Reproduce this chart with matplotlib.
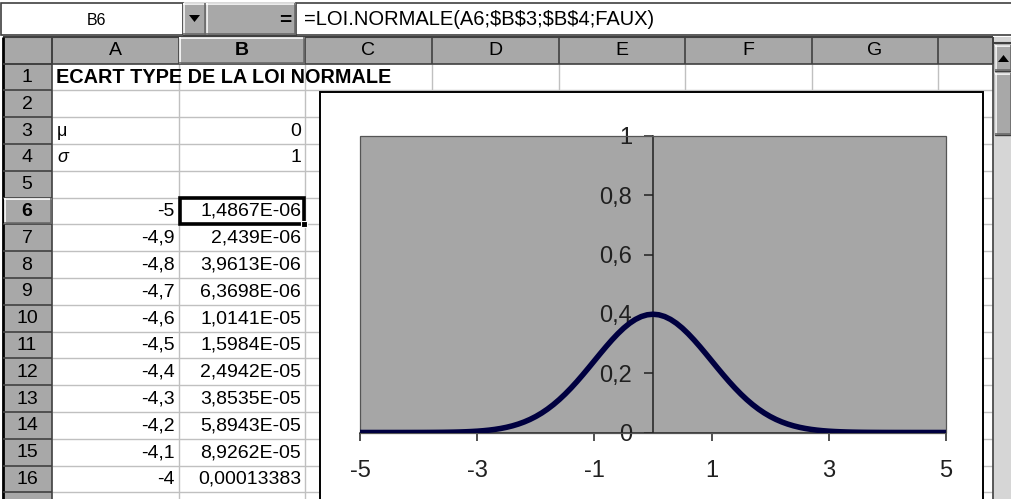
import matplotlib
matplotlib.use("Agg")
import matplotlib.pyplot as plt
from matplotlib.patches import Rectangle, Polygon

plt.rcParams['font.family'] = ['Liberation Sans', 'DejaVu Sans']

# ---------------- data ----------------
x_values = [-5.0, -4.9, -4.8, -4.7, -4.6, -4.5, -4.4, -4.3, -4.2, -4.1,
            -4.0, -3.9, -3.8, -3.7, -3.6, -3.5, -3.4, -3.3, -3.2, -3.1,
            -3.0, -2.9, -2.8, -2.7, -2.6, -2.5, -2.4, -2.3, -2.2, -2.1,
            -2.0, -1.9, -1.8, -1.7, -1.6, -1.5, -1.4, -1.3, -1.2, -1.1,
            -1.0, -0.9, -0.8, -0.7, -0.6, -0.5, -0.4, -0.3, -0.2, -0.1,
            0.0, 0.1, 0.2, 0.3, 0.4, 0.5, 0.6, 0.7, 0.8, 0.9,
            1.0, 1.1, 1.2, 1.3, 1.4, 1.5, 1.6, 1.7, 1.8, 1.9,
            2.0, 2.1, 2.2, 2.3, 2.4, 2.5, 2.6, 2.7, 2.8, 2.9,
            3.0, 3.1, 3.2, 3.3, 3.4, 3.5, 3.6, 3.7, 3.8, 3.9,
            4.0, 4.1, 4.2, 4.3, 4.4, 4.5, 4.6, 4.7, 4.8, 4.9, 5.0]
y_values = [0.00000, 0.00000, 0.00000, 0.00001, 0.00001, 0.00002, 0.00002, 0.00004, 0.00006, 0.00009,
            0.00013, 0.00020, 0.00029, 0.00042, 0.00061, 0.00087, 0.00123, 0.00172, 0.00238, 0.00327,
            0.00443, 0.00595, 0.00792, 0.01042, 0.01358, 0.01753, 0.02239, 0.02833, 0.03547, 0.04398,
            0.05399, 0.06562, 0.07895, 0.09405, 0.11092, 0.12952, 0.14973, 0.17137, 0.19419, 0.21785,
            0.24197, 0.26609, 0.28969, 0.31225, 0.33322, 0.35207, 0.36827, 0.38139, 0.39104, 0.39695,
            0.39894, 0.39695, 0.39104, 0.38139, 0.36827, 0.35207, 0.33322, 0.31225, 0.28969, 0.26609,
            0.24197, 0.21785, 0.19419, 0.17137, 0.14973, 0.12952, 0.11092, 0.09405, 0.07895, 0.06562,
            0.05399, 0.04398, 0.03547, 0.02833, 0.02239, 0.01753, 0.01358, 0.01042, 0.00792, 0.00595,
            0.00443, 0.00327, 0.00238, 0.00172, 0.00123, 0.00087, 0.00061, 0.00042, 0.00029, 0.00020,
            0.00013, 0.00009, 0.00006, 0.00004, 0.00002, 0.00002, 0.00001, 0.00001, 0.00000, 0.00000, 0.00000]

x_ticks = [-5, -3, -1, 1, 3, 5]
x_tick_labels = ['-5', '-3', '-1', '1', '3', '5']
y_ticks = [0, 0.2, 0.4, 0.6, 0.8, 1]
y_tick_labels = ['0', '0,2', '0,4', '0,6', '0,8', '1']

name_box = 'B6'
formula = '=LOI.NORMALE(A6;$B$3;$B$4;FAUX)'
column_letters = ['A', 'B', 'C', 'D', 'E', 'F', 'G', '']
row_numbers = [str(i) for i in range(1, 17)]
title_text = 'ECART TYPE DE LA LOI NORMALE'
param_labels = ['μ', 'σ']
param_values = ['0', '1']
table_a = ['-5', '-4,9', '-4,8', '-4,7', '-4,6', '-4,5', '-4,4', '-4,3', '-4,2', '-4,1', '-4']
table_b = ['1,4867E-06', '2,439E-06', '3,9613E-06', '6,3698E-06', '1,0141E-05', '1,5984E-05',
           '2,4942E-05', '3,8535E-05', '5,8943E-05', '8,9262E-05', '0,00013383']

# ---------------- figure ----------------
W, H = 1011, 499
fig = plt.figure(figsize=(W / 100, H / 100), dpi=100)
fig.patch.set_facecolor('white')
bg = fig.add_axes([0, 0, 1, 1])
bg.set_xlim(0, W)
bg.set_ylim(H, 0)
bg.axis('off')

GRAY = '#a8a8a8'
DARK = '#404040'
GRID = '#c0c0c0'


def rect(x0, y0, x1, y1, fc='none', ec='none', lw=1.0, z=1):
    bg.add_patch(Rectangle((x0, y0), x1 - x0, y1 - y0, facecolor=fc,
                           edgecolor=ec, linewidth=lw, zorder=z))


def line(xs, ys, c=DARK, lw=1.0, z=2):
    bg.plot(xs, ys, color=c, linewidth=lw, zorder=z, solid_capstyle='butt')


def bevel(x0, y0, x1, y1, z=2):
    line([x0, x1], [y0 + 1, y0 + 1], c='white', lw=1.2, z=z)
    line([x0 + 1, x0 + 1], [y0, y1], c='white', lw=1.2, z=z)
    line([x0, x1], [y1 - 1, y1 - 1], c='#6a6a6a', lw=1.2, z=z)
    line([x1 - 1, x1 - 1], [y0, y1], c='#6a6a6a', lw=1.2, z=z)


# formula bar
rect(1, 3, 183, 35, fc='white', ec=DARK, lw=1.2, z=2)
rect(183, 3, 206, 35, fc=GRAY, ec=DARK, lw=1.0, z=2)
bevel(183, 3, 206, 35, z=3)
bg.add_patch(Polygon([[189, 15], [200, 15], [194.5, 22]], closed=True,
                     facecolor='black', edgecolor='none', zorder=4))
rect(206, 3, 296, 35, fc=GRAY, ec=DARK, lw=1.0, z=2)
bevel(206, 3, 296, 35, z=3)
bg.text(285, 20, '=', ha='center', va='center', fontsize=15, fontweight='bold', zorder=4)
rect(296, 3, 1012, 35, fc='white', ec=DARK, lw=1.2, z=2)
bg.text(97, 20, name_box, ha='center', va='center', fontsize=11.5, zorder=4)
bg.text(304, 19, formula, ha='left', va='center', fontsize=14.5, zorder=4,
        parse_math=False)

# grid geometry
col_edges = [52, 178.5, 305, 432, 558.5, 685, 812, 938, 993]
head_top, head_bot = 37, 63.5
row_h = 26.8
row_tops = [head_bot + i * row_h for i in range(len(row_numbers) + 1)]

# cell grid lines
for xe in col_edges[1:]:
    line([xe, xe], [head_bot, H], c=GRID, lw=1.0, z=1)
for yt in row_tops[1:]:
    line([52, 993], [yt, yt], c=GRID, lw=1.0, z=1)

# column header
rect(3, head_top, 993, head_bot, fc=GRAY, ec='none', z=2)
line([3, 993], [head_top, head_top], c=DARK, lw=1.5, z=3)
line([3, 993], [head_bot, head_bot], c=DARK, lw=1.2, z=3)
for i, xe in enumerate(col_edges):
    line([xe, xe], [head_top, head_bot], c=DARK, lw=1.2, z=3)
for i, lab in enumerate(column_letters):
    cx = (col_edges[i] + col_edges[i + 1]) / 2
    bg.text(cx, 50.5, lab, ha='center', va='center', fontsize=14,
            fontweight='bold' if lab == 'B' else 'normal', color='#000000', zorder=4)
bevel(179, head_top, 305, head_bot, z=3)

# row header
rect(3, head_bot, 52, H, fc=GRAY, ec='none', z=2)
line([3, 3], [head_top, H], c='#000000', lw=2.0, z=3)
line([52, 52], [head_top, H], c=DARK, lw=1.2, z=3)
for yt in row_tops:
    line([3, 52], [yt, yt], c=DARK, lw=1.2, z=3)
for i, lab in enumerate(row_numbers):
    yt = row_tops[i]
    bg.text(27, yt + row_h / 2 + 0.5, lab, ha='center', va='center', fontsize=14,
            fontweight='bold' if lab == '6' else 'normal', zorder=4)
bevel(4, row_tops[5], 52, row_tops[6], z=3)

# cell contents
def row_mid(r):
    return row_tops[r - 1] + row_h / 2 + 0.5

bg.text(56, row_mid(1), title_text, ha='left', va='center', fontsize=14.3,
        fontweight='bold', zorder=4)
for k, (lab, val) in enumerate(zip(param_labels, param_values)):
    bg.text(57, row_mid(3 + k), lab, ha='left', va='center', fontsize=13,
            style='italic' if lab == 'σ' else 'normal', zorder=4)
    bg.text(301, row_mid(3 + k), val, ha='right', va='center', fontsize=14, zorder=4)
for k, (a, b) in enumerate(zip(table_a, table_b)):
    bg.text(174.5, row_mid(6 + k), a, ha='right', va='center', fontsize=14, zorder=4)
    bg.text(301, row_mid(6 + k), b, ha='right', va='center', fontsize=14, zorder=4)

# active cell B6
rect(179.5, row_tops[5] + 0.5, 304, row_tops[6] - 0.5, fc='none', ec='black', lw=2.6, z=5)
rect(300.5, row_tops[6] - 3.5, 307, row_tops[6] + 3, fc='black', ec='white', lw=0.8, z=6)

# scrollbar
rect(993, head_top, 1012, H, fc='#d6d6d6', ec='none', z=2)
line([993, 993], [head_top, H], c=DARK, lw=1.2, z=3)
line([993, 1012], [43, 43], c=DARK, lw=1.5, z=3)
rect(995, 45, 1012, 71, fc=GRAY, ec=DARK, lw=1.0, z=3)
bevel(995, 45, 1012, 71, z=4)
bg.add_patch(Polygon([[998, 62], [1009, 62], [1003.5, 55]], closed=True,
                     facecolor='black', edgecolor='none', zorder=5))
rect(995, 73, 1012, 135, fc=GRAY, ec=DARK, lw=1.0, z=3)
bevel(995, 73, 1012, 135, z=4)

# chart object box
rect(320, 92, 983, H + 5, fc='white', ec='black', lw=1.4, z=6)

# ---------------- chart ----------------
pl, pr, pt, pb = 360, 946, 136, 432.5
ax = fig.add_axes([pl / W, 1 - pb / H, (pr - pl) / W, (pb - pt) / H])
ax.set_facecolor('#a6a6a6')
ax.set_xlim(-5, 5)
ax.set_ylim(0, 1)
ax.plot(x_values, y_values, color='#000040', linewidth=4.0, zorder=5,
        solid_joinstyle='round', solid_capstyle='butt')
ax.spines['top'].set_visible(False)
ax.spines['right'].set_visible(False)
ax.spines['left'].set_position(('data', 0))
ax.spines['left'].set_color('#202020')
ax.spines['left'].set_linewidth(1.1)
ax.spines['bottom'].set_color('#202020')
ax.spines['bottom'].set_linewidth(1.1)
ax.add_patch(Rectangle((0, 0), 1, 1, transform=ax.transAxes, facecolor='none',
                       edgecolor='#555555', linewidth=0.9, zorder=4, clip_on=False))
ax.set_xticks(x_ticks)
ax.set_xticklabels(x_tick_labels)
ax.set_yticks(y_ticks)
ax.set_yticklabels(y_tick_labels)
ax.tick_params(axis='x', direction='out', length=6, width=1.1, pad=13.5,
               labelsize=17, colors='#202020')
ax.tick_params(axis='y', direction='out', length=6.5, width=1.1, pad=8.5,
               labelsize=17, colors='#202020')

fig.savefig('out.png', dpi=100, facecolor='white')
